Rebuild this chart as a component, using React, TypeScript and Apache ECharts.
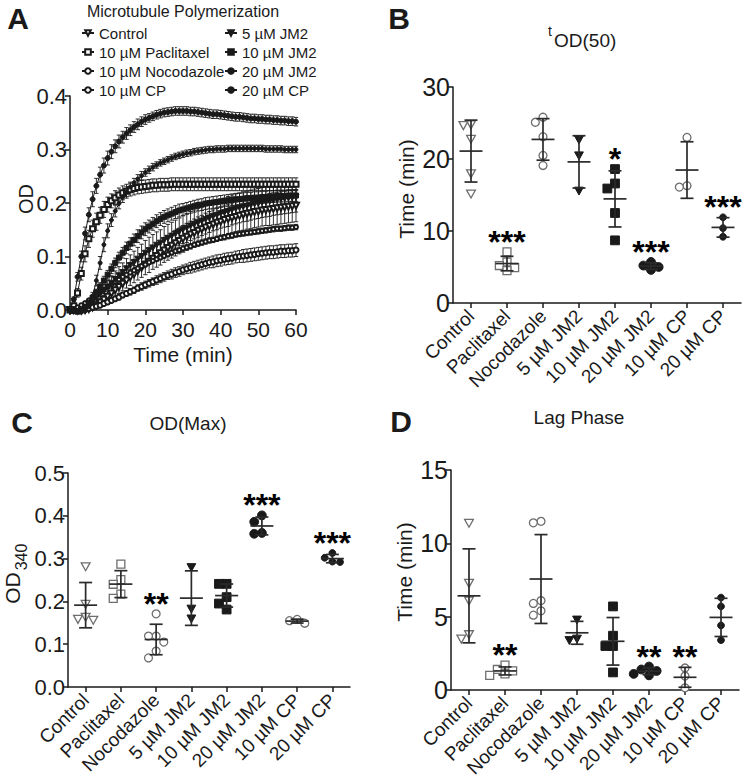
import React, { useEffect, useRef } from "react";
import * as echarts from "echarts";

const FONT = "'Liberation Sans', Arial, Helvetica, sans-serif";
const INK = "#1a1a1a";
const GREY = "#6e6e6e";

// ---------- Panel A: polymerization curves (one value per minute, 0..60) ----------
const curveNames = ["Control", "10 µM Paclitaxel", "10 µM Nocodazole", "10 µM CP", "5 µM JM2", "10 µM JM2", "20 µM JM2", "20 µM CP"];

const ctlMean = [0, 0, -0.001, -0.001, 0, 0.002, 0.005, 0.009, 0.014, 0.019, 0.025, 0.031, 0.037, 0.043, 0.049, 0.055, 0.061, 0.067, 0.073, 0.079, 0.085, 0.09, 0.096, 0.101, 0.106, 0.111, 0.116, 0.12, 0.125, 0.129, 0.133, 0.137, 0.141, 0.144, 0.148, 0.151, 0.154, 0.157, 0.16, 0.163, 0.165, 0.168, 0.17, 0.172, 0.174, 0.176, 0.178, 0.18, 0.181, 0.183, 0.184, 0.186, 0.187, 0.188, 0.189, 0.19, 0.191, 0.192, 0.193, 0.194, 0.195];
const ctlSd = [0.002, 0.002, 0.002, 0.003, 0.003, 0.004, 0.005, 0.006, 0.007, 0.008, 0.009, 0.01, 0.011, 0.012, 0.013, 0.014, 0.015, 0.016, 0.017, 0.018, 0.019, 0.02, 0.02, 0.021, 0.022, 0.022, 0.023, 0.023, 0.024, 0.024, 0.025, 0.025, 0.025, 0.026, 0.026, 0.026, 0.027, 0.027, 0.027, 0.027, 0.028, 0.028, 0.028, 0.028, 0.028, 0.028, 0.029, 0.029, 0.029, 0.029, 0.029, 0.029, 0.029, 0.03, 0.03, 0.03, 0.03, 0.03, 0.03, 0.03, 0.03];

const ptxMean = [0, 0.008, 0.032, 0.068, 0.105, 0.133, 0.152, 0.165, 0.177, 0.188, 0.197, 0.204, 0.21, 0.215, 0.219, 0.222, 0.225, 0.227, 0.229, 0.23, 0.231, 0.232, 0.233, 0.233, 0.234, 0.234, 0.234, 0.235, 0.235, 0.235, 0.235, 0.235, 0.235, 0.235, 0.235, 0.235, 0.235, 0.235, 0.235, 0.235, 0.235, 0.235, 0.235, 0.235, 0.235, 0.235, 0.235, 0.235, 0.235, 0.235, 0.235, 0.235, 0.235, 0.235, 0.235, 0.235, 0.235, 0.235, 0.235, 0.235, 0.235];
const ptxSd = [0.002, 0.004, 0.008, 0.012, 0.015, 0.016, 0.016, 0.016, 0.015, 0.015, 0.014, 0.013, 0.013, 0.013, 0.013, 0.013, 0.012, 0.012, 0.012, 0.012, 0.012, 0.012, 0.012, 0.012, 0.012, 0.012, 0.012, 0.012, 0.012, 0.012, 0.012, 0.012, 0.012, 0.012, 0.012, 0.012, 0.012, 0.012, 0.012, 0.012, 0.012, 0.012, 0.012, 0.012, 0.012, 0.012, 0.012, 0.012, 0.012, 0.012, 0.012, 0.012, 0.012, 0.012, 0.012, 0.012, 0.012, 0.012, 0.012, 0.012, 0.012];

const nocMean = [0, 0, 0, 0.001, 0.002, 0.003, 0.005, 0.007, 0.009, 0.012, 0.015, 0.018, 0.021, 0.024, 0.028, 0.031, 0.034, 0.037, 0.041, 0.044, 0.047, 0.05, 0.053, 0.056, 0.059, 0.062, 0.065, 0.067, 0.07, 0.072, 0.075, 0.077, 0.079, 0.081, 0.083, 0.085, 0.087, 0.089, 0.09, 0.092, 0.093, 0.095, 0.096, 0.097, 0.099, 0.1, 0.101, 0.102, 0.103, 0.104, 0.105, 0.106, 0.107, 0.108, 0.108, 0.109, 0.11, 0.11, 0.111, 0.111, 0.112];
const nocSd = [0.001, 0.001, 0.001, 0.001, 0.002, 0.002, 0.002, 0.003, 0.003, 0.003, 0.004, 0.004, 0.004, 0.005, 0.005, 0.005, 0.006, 0.006, 0.006, 0.007, 0.007, 0.007, 0.007, 0.008, 0.008, 0.008, 0.008, 0.009, 0.009, 0.009, 0.009, 0.009, 0.01, 0.01, 0.01, 0.01, 0.01, 0.01, 0.011, 0.011, 0.011, 0.011, 0.011, 0.011, 0.011, 0.011, 0.012, 0.012, 0.012, 0.012, 0.012, 0.012, 0.012, 0.012, 0.012, 0.012, 0.012, 0.012, 0.012, 0.012, 0.012];

const c10Mean = [0, 0.002, 0.005, 0.009, 0.013, 0.018, 0.023, 0.028, 0.033, 0.038, 0.043, 0.048, 0.053, 0.057, 0.062, 0.066, 0.07, 0.074, 0.078, 0.082, 0.085, 0.089, 0.092, 0.095, 0.098, 0.101, 0.104, 0.107, 0.11, 0.112, 0.115, 0.117, 0.119, 0.122, 0.124, 0.126, 0.128, 0.13, 0.131, 0.133, 0.135, 0.136, 0.138, 0.139, 0.141, 0.142, 0.143, 0.144, 0.145, 0.146, 0.147, 0.148, 0.149, 0.15, 0.151, 0.152, 0.152, 0.153, 0.154, 0.154, 0.155];
const c10Sd = [0.001, 0.001, 0.002, 0.002, 0.002, 0.002, 0.003, 0.003, 0.003, 0.003, 0.003, 0.003, 0.003, 0.003, 0.004, 0.004, 0.004, 0.004, 0.004, 0.004, 0.004, 0.004, 0.004, 0.004, 0.004, 0.004, 0.004, 0.004, 0.004, 0.004, 0.005, 0.005, 0.005, 0.005, 0.005, 0.005, 0.005, 0.005, 0.005, 0.005, 0.005, 0.005, 0.005, 0.005, 0.005, 0.005, 0.005, 0.005, 0.005, 0.005, 0.005, 0.005, 0.005, 0.005, 0.005, 0.005, 0.005, 0.005, 0.005, 0.005, 0.005];

const j5Mean = [0, -0.002, -0.003, -0.001, 0.003, 0.009, 0.015, 0.022, 0.029, 0.036, 0.043, 0.05, 0.057, 0.064, 0.07, 0.077, 0.083, 0.089, 0.095, 0.1, 0.106, 0.111, 0.116, 0.121, 0.125, 0.13, 0.134, 0.138, 0.142, 0.146, 0.15, 0.153, 0.157, 0.16, 0.163, 0.166, 0.169, 0.172, 0.175, 0.177, 0.18, 0.182, 0.184, 0.187, 0.189, 0.191, 0.193, 0.194, 0.196, 0.198, 0.199, 0.201, 0.202, 0.203, 0.205, 0.206, 0.207, 0.208, 0.209, 0.21, 0.211];
const j5Sd = [0.002, 0.002, 0.002, 0.002, 0.003, 0.004, 0.006, 0.008, 0.01, 0.012, 0.013, 0.014, 0.016, 0.017, 0.018, 0.019, 0.02, 0.021, 0.022, 0.023, 0.024, 0.025, 0.025, 0.025, 0.025, 0.026, 0.026, 0.026, 0.026, 0.026, 0.026, 0.027, 0.027, 0.027, 0.027, 0.027, 0.027, 0.027, 0.027, 0.027, 0.027, 0.027, 0.028, 0.028, 0.028, 0.028, 0.028, 0.028, 0.028, 0.028, 0.028, 0.028, 0.028, 0.028, 0.028, 0.028, 0.028, 0.028, 0.028, 0.028, 0.028];

const j10Mean = [0, -0.002, -0.003, 0, 0.006, 0.014, 0.023, 0.033, 0.044, 0.055, 0.066, 0.077, 0.088, 0.098, 0.107, 0.116, 0.124, 0.131, 0.138, 0.145, 0.151, 0.156, 0.161, 0.166, 0.17, 0.174, 0.177, 0.18, 0.183, 0.186, 0.188, 0.19, 0.192, 0.194, 0.196, 0.197, 0.199, 0.2, 0.201, 0.202, 0.203, 0.204, 0.205, 0.206, 0.207, 0.207, 0.208, 0.209, 0.209, 0.21, 0.21, 0.211, 0.211, 0.212, 0.212, 0.213, 0.213, 0.213, 0.214, 0.214, 0.214];
const j10Sd = [0.002, 0.002, 0.002, 0.002, 0.003, 0.004, 0.005, 0.006, 0.007, 0.008, 0.008, 0.009, 0.009, 0.01, 0.01, 0.011, 0.011, 0.011, 0.012, 0.012, 0.012, 0.012, 0.012, 0.012, 0.012, 0.012, 0.012, 0.012, 0.012, 0.012, 0.011, 0.011, 0.011, 0.011, 0.011, 0.011, 0.011, 0.011, 0.011, 0.011, 0.011, 0.011, 0.011, 0.011, 0.011, 0.011, 0.011, 0.011, 0.011, 0.011, 0.011, 0.011, 0.011, 0.011, 0.011, 0.011, 0.011, 0.011, 0.011, 0.011, 0.011];

const j20Mean = [0, 0.02, 0.062, 0.1, 0.143, 0.178, 0.207, 0.232, 0.253, 0.27, 0.284, 0.296, 0.306, 0.315, 0.323, 0.33, 0.336, 0.342, 0.347, 0.352, 0.356, 0.359, 0.362, 0.365, 0.367, 0.369, 0.37, 0.371, 0.372, 0.372, 0.372, 0.372, 0.371, 0.371, 0.37, 0.369, 0.368, 0.367, 0.366, 0.366, 0.365, 0.364, 0.363, 0.362, 0.361, 0.361, 0.36, 0.359, 0.358, 0.358, 0.357, 0.357, 0.356, 0.356, 0.355, 0.355, 0.354, 0.354, 0.353, 0.353, 0.352];
const j20Sd = [0.002, 0.004, 0.008, 0.01, 0.012, 0.013, 0.014, 0.014, 0.014, 0.014, 0.013, 0.013, 0.012, 0.012, 0.011, 0.011, 0.01, 0.01, 0.01, 0.009, 0.009, 0.008, 0.008, 0.008, 0.008, 0.008, 0.008, 0.008, 0.008, 0.008, 0.008, 0.008, 0.008, 0.008, 0.008, 0.008, 0.008, 0.008, 0.008, 0.008, 0.008, 0.008, 0.008, 0.008, 0.008, 0.008, 0.008, 0.008, 0.008, 0.008, 0.008, 0.008, 0.008, 0.008, 0.008, 0.008, 0.008, 0.008, 0.008, 0.008, 0.008];

const c20Mean = [0, -0.002, -0.004, -0.004, -0.002, 0.006, 0.026, 0.055, 0.088, 0.122, 0.148, 0.168, 0.185, 0.199, 0.211, 0.221, 0.23, 0.238, 0.245, 0.251, 0.257, 0.262, 0.267, 0.271, 0.275, 0.278, 0.281, 0.284, 0.287, 0.289, 0.291, 0.293, 0.294, 0.296, 0.297, 0.298, 0.299, 0.3, 0.3, 0.301, 0.301, 0.301, 0.302, 0.302, 0.302, 0.302, 0.302, 0.302, 0.302, 0.302, 0.302, 0.302, 0.301, 0.301, 0.301, 0.301, 0.301, 0.3, 0.3, 0.3, 0.3];
const c20Sd = [0.002, 0.002, 0.002, 0.002, 0.002, 0.004, 0.007, 0.01, 0.012, 0.013, 0.013, 0.012, 0.011, 0.01, 0.01, 0.009, 0.009, 0.008, 0.008, 0.008, 0.007, 0.007, 0.007, 0.006, 0.006, 0.006, 0.006, 0.006, 0.006, 0.006, 0.006, 0.006, 0.006, 0.006, 0.006, 0.006, 0.006, 0.006, 0.006, 0.006, 0.006, 0.006, 0.006, 0.006, 0.006, 0.006, 0.006, 0.006, 0.006, 0.006, 0.006, 0.006, 0.006, 0.006, 0.006, 0.006, 0.006, 0.006, 0.006, 0.006, 0.006];

const curveMeans = [ctlMean, ptxMean, nocMean, c10Mean, j5Mean, j10Mean, j20Mean, c20Mean];
const curveSds = [ctlSd, ptxSd, nocSd, c10Sd, j5Sd, j10Sd, j20Sd, c20Sd];

// ---------- Panels B, C, D: individual replicates ----------
const groups = ["Control", "Paclitaxel", "Nocodazole", "5 µM JM2", "10 µM JM2", "20 µM JM2", "10 µM CP", "20 µM CP"];

const tOd50 = [
  [24.8, 24.7, 22.8, 18.0, 15.2],
  [7.1, 5.7, 5.2, 4.9, 4.5],
  [25.8, 25.1, 23.1, 20.5, 19.1],
  [22.7, 20.5, 15.6],
  [18.6, 16.6, 15.9, 12.5, 8.7],
  [5.7, 5.2, 5.0, 4.6],
  [23.0, 16.3, 16.1],
  [11.9, 10.4, 9.2],
];
const tOd50Stars = ["", "***", "", "", "*", "***", "", "***"];

const odMax = [
  [0.282, 0.194, 0.164, 0.157, 0.159],
  [0.287, 0.251, 0.24, 0.217, 0.207],
  [0.171, 0.119, 0.119, 0.105, 0.084, 0.068],
  [0.28, 0.183, 0.16],
  [0.241, 0.241, 0.21, 0.195, 0.181],
  [0.401, 0.386, 0.36, 0.358],
  [0.158, 0.155, 0.149],
  [0.313, 0.302, 0.293, 0.292],
];
const odMaxStars = ["", "", "**", "", "", "***", "", "***"];

const lagPhase = [
  [11.4, 7.3, 6.1, 3.8, 3.5],
  [1.7, 1.4, 1.3, 1.1, 1.0],
  [11.5, 11.4, 6.1, 5.9, 5.4, 5.1],
  [4.8, 3.5, 3.4],
  [5.7, 3.7, 3.0, 3.0, 1.2],
  [1.6, 1.4, 1.3, 1.1, 1.0],
  [1.5, 0.95, 0.15],
  [6.3, 5.7, 4.4, 3.4],
];
const lagStars = ["", "**", "", "", "", "**", "**", ""];

const yTicksA = [0, 0.4, 0.1];
const yTicksB = [0, 30, 10];
const yTicksC = [0, 0.5, 0.1];
const yTicksD = [0, 15, 5];

// ---------- layout ----------
const GRIDS = [
  { left: 70, top: 96, width: 226, height: 214 },
  { left: 453, top: 87, width: 288, height: 216 },
  { left: 68, top: 473, width: 282, height: 214 },
  { left: 451, top: 470, width: 288, height: 220 },
];

const groupMarkers = ["triDownOpen", "squareOpen", "circleOpen", "triDown", "square", "circle", "circleOpen", "dot"];

function marker(kind: string, cx: number, cy: number): any {
  const open = { fill: "#fff", stroke: GREY, lineWidth: 1.3 };
  const solid = { fill: INK, stroke: INK, lineWidth: 1 };
  const r = 4.4;
  switch (kind) {
    case "triDownOpen":
      return { type: "polygon", shape: { points: [[cx - r, cy - r * 0.8], [cx + r, cy - r * 0.8], [cx, cy + r]] }, style: open };
    case "triDown":
      return { type: "polygon", shape: { points: [[cx - r, cy - r * 0.8], [cx + r, cy - r * 0.8], [cx, cy + r]] }, style: solid };
    case "squareOpen":
      return { type: "rect", shape: { x: cx - r * 0.9, y: cy - r * 0.9, width: r * 1.8, height: r * 1.8 }, style: open };
    case "square":
      return { type: "rect", shape: { x: cx - r, y: cy - r, width: r * 2, height: r * 2 }, style: solid };
    case "circleOpen":
      return { type: "circle", shape: { cx, cy, r: r * 0.9 }, style: open };
    case "circle":
      return { type: "circle", shape: { cx, cy, r: r }, style: solid };
    default:
      return { type: "circle", shape: { cx, cy, r: 3.4 }, style: solid };
  }
}

function spread(vals: number[], pxPerUnit: number, size: number): number[] {
  const order = vals.map((_, i) => i).sort((a, b) => vals[b] - vals[a]);
  const placed: [number, number][] = [];
  const off = new Array(vals.length).fill(0);
  const step = size * 0.85;
  const cands = [0, -step, step, -2 * step, 2 * step, -3 * step, 3 * step];
  for (const i of order) {
    const y = vals[i] * pxPerUnit;
    for (const c of cands) {
      if (placed.every(([px, py]) => Math.hypot(px - c, py - y) >= step)) {
        off[i] = c;
        placed.push([c, y]);
        break;
      }
    }
  }
  return off;
}

function stats(v: number[]) {
  const m = v.reduce((a, b) => a + b, 0) / v.length;
  const s = Math.sqrt(v.reduce((a, b) => a + (b - m) * (b - m), 0) / (v.length - 1));
  return [m, s];
}

function dotPanel(gi: number, pts: number[][], stars: string[], ymax: number): any[] {
  const pxPerUnit = GRIDS[gi].height / ymax;
  const pointData: any[] = [];
  const statData: any[] = [];
  const starData: any[] = [];
  pts.forEach((vals, ci) => {
    const offs = spread(vals, pxPerUnit, 9);
    vals.forEach((v, k) => pointData.push([ci, v, offs[k]]));
    const [m, s] = stats(vals);
    statData.push([ci, m, s]);
    if (stars[ci]) starData.push([ci, Math.max(Math.max(...vals), m + s), stars[ci]]);
  });
  const lineStyle = { stroke: "#2a2a2a", lineWidth: 1.7 };
  return [
    {
      type: "custom", xAxisIndex: gi, yAxisIndex: gi, silent: true, clip: false, z: 3,
      encode: { x: 0, y: 1 }, data: pointData,
      renderItem: (_p: any, api: any) => {
        const c = api.coord([api.value(0), api.value(1)]);
        return marker(groupMarkers[api.value(0)], c[0] + api.value(2), c[1]);
      },
    },
    {
      type: "custom", xAxisIndex: gi, yAxisIndex: gi, silent: true, clip: false, z: 4,
      encode: { x: 0, y: 1 }, data: statData,
      renderItem: (_p: any, api: any) => {
        const ci = api.value(0), m = api.value(1), s = api.value(2);
        const pm = api.coord([ci, m]);
        const pt = api.coord([ci, m + s]);
        const pb = api.coord([ci, Math.max(0, m - s)]);
        return {
          type: "group",
          children: [
            { type: "line", shape: { x1: pm[0] - 11.5, y1: pm[1], x2: pm[0] + 11.5, y2: pm[1] }, style: lineStyle },
            { type: "line", shape: { x1: pt[0], y1: pt[1], x2: pb[0], y2: pb[1] }, style: lineStyle },
            { type: "line", shape: { x1: pt[0] - 6.5, y1: pt[1], x2: pt[0] + 6.5, y2: pt[1] }, style: lineStyle },
            { type: "line", shape: { x1: pb[0] - 6.5, y1: pb[1], x2: pb[0] + 6.5, y2: pb[1] }, style: lineStyle },
          ],
        };
      },
    },
    {
      type: "custom", xAxisIndex: gi, yAxisIndex: gi, silent: true, clip: false, z: 5,
      encode: { x: 0, y: 1 }, data: starData,
      renderItem: (_p: any, api: any) => {
        const c = api.coord([api.value(0), api.value(1)]);
        return {
          type: "text", x: c[0], y: c[1] - 10,
          style: { text: starData[_p.dataIndex][2], fill: "#000", fontSize: 32, fontWeight: "bold", fontFamily: FONT, align: "center", verticalAlign: "middle" },
        };
      },
    },
  ];
}

const axisLineStyle = { color: INK, width: 1.5 };
const tickStyle = { show: true, length: 5, lineStyle: axisLineStyle };

function valueY(gi: number, t: number[], fontSize: number, fmt: (v: number) => string) {
  return {
    type: "value", gridIndex: gi, min: t[0], max: t[1], interval: t[2],
    axisLine: { show: true, lineStyle: axisLineStyle }, axisTick: tickStyle, splitLine: { show: false },
    axisLabel: { fontSize, color: INK, fontFamily: FONT, margin: 3, formatter: fmt },
  };
}

function catX(gi: number) {
  return {
    type: "category", gridIndex: gi, data: groups, boundaryGap: true,
    axisLine: { show: true, lineStyle: axisLineStyle },
    axisTick: { show: true, alignWithLabel: true, length: 5, lineStyle: axisLineStyle },
    axisLabel: { rotate: 45, interval: 0, fontSize: 19, color: INK, fontFamily: FONT, margin: 10 },
  };
}

const curveSymbols: [string, number, number][] = [
  ["emptyTriangle", 6, 180],
  ["emptyRect", 5, 0],
  ["emptyCircle", 5, 0],
  ["emptyCircle", 4, 0],
  ["triangle", 6, 180],
  ["rect", 5, 0],
  ["circle", 5, 0],
  ["circle", 4, 0],
];

function buildOption(): any {
  const series: any[] = [];
  curveMeans.forEach((mean, si) => {
    const sd = curveSds[si];
    series.push({
      type: "custom", xAxisIndex: 0, yAxisIndex: 0, silent: true, clip: false, z: 1,
      encode: { x: 0, y: 1 },
      data: mean.map((m, i) => [i, m, sd[i]]),
      renderItem: (_p: any, api: any) => {
        const t = api.value(0), m = api.value(1), s = api.value(2);
        const p1 = api.coord([t, m + s]);
        const p2 = api.coord([t, m - s]);
        const hw = 2.2;
        const st = { stroke: INK, lineWidth: 0.9 };
        return {
          type: "group",
          children: [
            { type: "line", shape: { x1: p1[0], y1: p1[1], x2: p2[0], y2: p2[1] }, style: st },
            { type: "line", shape: { x1: p1[0] - hw, y1: p1[1], x2: p1[0] + hw, y2: p1[1] }, style: st },
            { type: "line", shape: { x1: p2[0] - hw, y1: p2[1], x2: p2[0] + hw, y2: p2[1] }, style: st },
          ],
        };
      },
    });
  });
  curveMeans.forEach((mean, si) => {
    const [sym, size, rot] = curveSymbols[si];
    series.push({
      type: "line", name: curveNames[si], xAxisIndex: 0, yAxisIndex: 0,
      data: mean.map((v, i) => [i, v]),
      symbol: sym, symbolSize: size, symbolRotate: rot, showSymbol: true, showAllSymbol: true,
      lineStyle: { color: INK, width: 1 },
      itemStyle: { color: INK, borderColor: INK, borderWidth: 1 },
      clip: false, z: 2 + si, silent: true,
    });
  });
  series.push(...dotPanel(1, tOd50, tOd50Stars, yTicksB[1]));
  series.push(...dotPanel(2, odMax, odMaxStars, yTicksC[1]));
  series.push(...dotPanel(3, lagPhase, lagStars, yTicksD[1]));

  const legendText = { fontSize: 15, color: INK, fontFamily: FONT, lineHeight: 16 };
  const text = (t: string, x: number, y: number, size: number, extra: any = {}, rotation = 0) => ({
    type: "text", x, y, rotation,
    style: { text: t, fill: INK, fontSize: size, fontFamily: FONT, align: "center", verticalAlign: "middle", ...extra },
  });
  const V = Math.PI / 2;

  return {
    animation: false,
    backgroundColor: "#fff",
    grid: GRIDS.map((g) => ({ ...g, containLabel: false })),
    xAxis: [
      {
        type: "value", gridIndex: 0, min: 0, max: 60, interval: 10,
        axisLine: { show: true, lineStyle: axisLineStyle }, axisTick: tickStyle, splitLine: { show: false },
        axisLabel: { fontSize: 21, color: INK, fontFamily: FONT, margin: 9 },
        name: "Time (min)", nameLocation: "middle", nameGap: 34,
        nameTextStyle: { fontSize: 21, color: INK, fontFamily: FONT },
      },
      catX(1), catX(2), catX(3),
    ],
    yAxis: [
      valueY(0, yTicksA, 22, (v) => v.toFixed(1)),
      valueY(1, yTicksB, 25, (v) => String(v)),
      valueY(2, yTicksC, 22, (v) => v.toFixed(1)),
      valueY(3, yTicksD, 25, (v) => String(v)),
    ],
    legend: [
      {
        data: curveNames.slice(0, 4), orient: "vertical", left: 76, top: 20,
        itemWidth: 12, itemHeight: 7, itemGap: 3, textStyle: legendText, selectedMode: false,
      },
      {
        data: curveNames.slice(4), orient: "vertical", left: 219, top: 20,
        itemWidth: 12, itemHeight: 7, itemGap: 3, textStyle: legendText, selectedMode: false,
      },
    ],
    graphic: [
      text("Microtubule Polymerization", 183, 11, 16),
      text("A", 18, 18, 30, { fontWeight: "bold" }),
      text("B", 399, 18, 30, { fontWeight: "bold" }),
      text("C", 22, 422, 30, { fontWeight: "bold" }),
      text("D", 401, 421, 30, { fontWeight: "bold" }),
      text("t", 550, 31, 14),
      text("OD(50)", 554, 40, 19, { align: "left" }),
      text("OD(Max)", 188, 423, 19),
      text("Lag Phase", 579, 417, 19),
      text("OD", 26, 199, 20, {}, V),
      text("Time (min)", 406, 189, 21, {}, V),
      text("OD", 12, 588, 21, {}, V),
      text("340", 21, 557, 16, {}, V),
      text("Time (min)", 404, 572, 21, {}, V),
    ],
    series,
  };
}

export default function App() {
  const ref = useRef<HTMLDivElement>(null);
  useEffect(() => {
    if (!ref.current) return;
    const chart = echarts.init(ref.current, undefined, { renderer: "svg" });
    chart.setOption(buildOption());
    return () => chart.dispose();
  }, []);
  return (
    <div
      ref={ref}
      style={{ position: "fixed", left: 0, top: 0, width: 742, height: 780, background: "#fff" }}
    />
  );
}
